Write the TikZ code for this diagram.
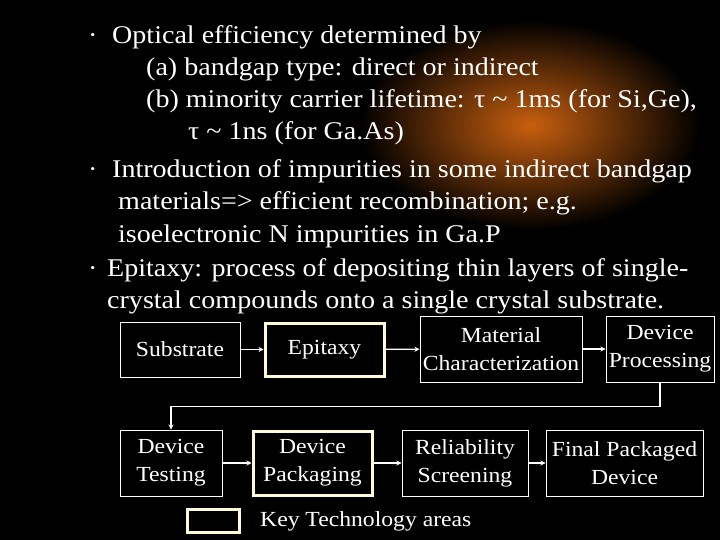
\documentclass[tikz,border=0pt]{standalone}
\usepackage{fontspec}
\setmainfont{Liberation Serif}[FakeStretch=1.1]
\usetikzlibrary{arrows.meta}
\begin{document}
\begin{tikzpicture}[x=1pt,y=-1pt,
  txt/.style={anchor=base west,text=white,inner sep=0,font=\fontsize{25.5}{28}\selectfont},
  bx/.style={draw=white,line width=1pt,text=white,align=center,inner sep=0,font=\fontsize{21.5}{28}\selectfont},
  key/.style={bx,draw={rgb,255:red,255;green,250;blue,215},line width=3pt},
  arr/.style={draw=white,line width=1.2pt,-{Stealth[length=5pt,width=5pt]}}]
\fill[black] (0,0) rectangle (720,540);
\useasboundingbox (0,0) rectangle (720,540);
\fill[inner color={rgb,255:red,200;green,95;blue,15},outer color=black] (530,125) ellipse (170 and 105);
\node[txt] (b1) at (88,44) {·};
\node[txt] (l1) at (112,44) {Optical efficiency determined by};
\node[txt] (l2) at (146,76) {(a) bandgap type: direct or indirect};
\node[txt] (l3) at (146,108) {(b) minority carrier lifetime: τ \textasciitilde{} 1ms (for Si,Ge),};
\node[txt] (l4) at (188,140) {τ \textasciitilde{} 1ns (for Ga.As)};
\node[txt] (b2) at (88,178) {·};
\node[txt] (l5) at (112,178) {Introduction of impurities in some indirect bandgap};
\node[txt] (l6) at (118,210) {materials=> efficient recombination; e.g.};
\node[txt] (l7) at (118,242) {isoelectronic N impurities in Ga.P};
\node[txt] (b3) at (88,276) {·};
\node[txt] (l8) at (107,276) {Epitaxy: process of depositing thin layers of single-};
\node[txt] (l9) at (107,308) {crystal compounds onto a single crystal substrate.};
\node[bx,minimum width=120,minimum height=55] (s) at (180,349.5) {Substrate};
\node[key,minimum width=119,minimum height=53] (e) at (324.5,349.5) {Epitaxy};
\node[bx,minimum width=162,minimum height=66] (m) at (501,349) {Material\\Characterization};
\node[bx,minimum width=108,minimum height=66] (p) at (660,349) {Device\\Processing};
\node[bx,minimum width=102,minimum height=66] (t) at (171,463) {Device\\Testing};
\node[key,minimum width=119,minimum height=64] (k) at (312.5,463) {Device\\Packaging};
\node[bx,minimum width=126,minimum height=66] (r) at (465,463) {Reliability\\Screening};
\node[bx,minimum width=157,minimum height=66] (f) at (624.5,463) {Final Packaged\\Device};
\node[key,minimum width=52,minimum height=23] (kb) at (213,520.5) {};
\node[anchor=west,text=white,inner sep=0,font=\fontsize{21.5}{26}\selectfont] (kt) at (260,521) {Key Technology areas};
\draw[arr] (s) -- (e);
\draw[arr] (e) -- (m);
\draw[arr] (m) -- (p);
\draw[arr] (p.south) -- ++(0,24) -| (t.north);
\draw[arr] (t) -- (k);
\draw[arr] (k) -- (r);
\draw[arr] (r) -- (f);
\end{tikzpicture}
\end{document}
